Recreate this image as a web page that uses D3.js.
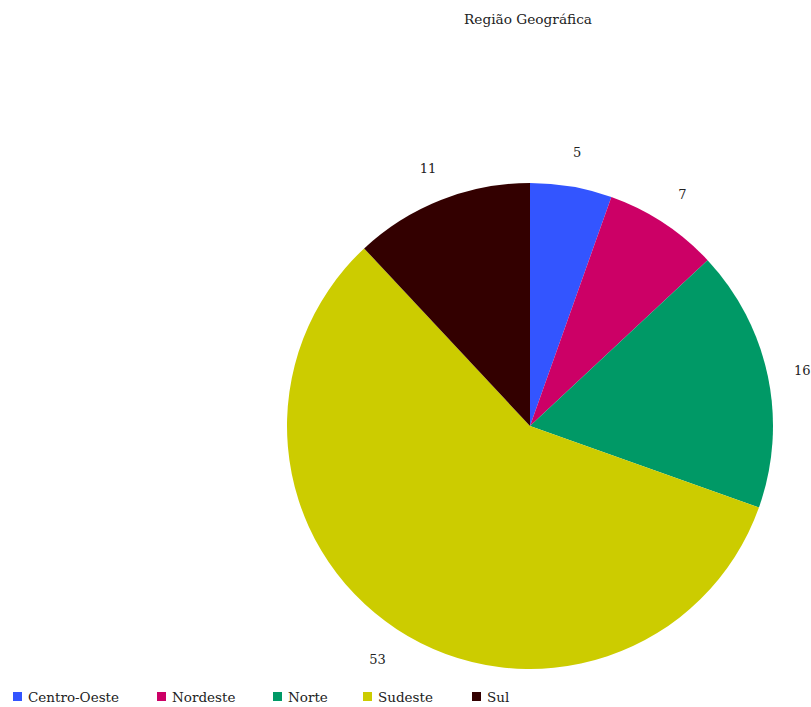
<!DOCTYPE html>
<html>
<head>
<meta charset="utf-8">
<script src="https://cdn.jsdelivr.net/npm/d3@7"></script>
<style>
  html, body { margin: 0; padding: 0; background: #fff; }
  svg { display: block; }
  svg text { font-family: "DejaVu Serif", serif; }
</style>
</head>
<body>
<svg id="chart" width="811" height="707"></svg>
<script>
// Region shares, drawn clockwise from 12 o'clock
const categories = ["Centro-Oeste", "Nordeste", "Norte", "Sudeste", "Sul"];
const values = [5, 7, 16, 53, 11];
const colors = ["#3355ff", "#cc0066", "#009966", "#cccc00", "#330000"];
const title = "Região Geográfica";

const svg = d3.select("#chart");
const cx = 530, cy = 426, radius = 243, labelRadius = 278;

svg.append("text")
  .attr("x", 528).attr("y", 24)
  .attr("text-anchor", "middle")
  .attr("font-size", 13.7)
  .attr("fill", "#222")
  .text(title);

const color = d3.scaleOrdinal().domain(categories).range(colors);
const pie = d3.pie().sort(null).value(d => d.value);
const data = categories.map((c, i) => ({ name: c, value: values[i] }));
const arcs = pie(data);

const arc = d3.arc().innerRadius(0).outerRadius(radius);
const labelArc = d3.arc().innerRadius(labelRadius).outerRadius(labelRadius);

const g = svg.append("g").attr("transform", `translate(${cx},${cy})`);

g.selectAll("path.slice")
  .data(arcs)
  .join("path")
  .attr("class", "slice")
  .attr("d", arc)
  .attr("fill", d => color(d.data.name));

g.selectAll("text.value")
  .data(arcs)
  .join("text")
  .attr("class", "value")
  .attr("transform", d => `translate(${labelArc.centroid(d)})`)
  .attr("text-anchor", "middle")
  .attr("dy", "0.4em")
  .attr("font-size", 13)
  .attr("fill", "#222")
  .text(d => d.data.value);

// Legend row along the bottom
const legendX = [13, 157, 273, 363, 472];
const legend = svg.append("g");
const items = legend.selectAll("g")
  .data(categories)
  .join("g")
  .attr("transform", (d, i) => `translate(${legendX[i]},692)`);
items.append("rect")
  .attr("width", 9).attr("height", 9)
  .attr("fill", d => color(d));
items.append("text")
  .attr("x", 15).attr("y", 10)
  .attr("font-size", 13.5)
  .attr("fill", "#222")
  .text(d => d);
</script>
</body>
</html>
